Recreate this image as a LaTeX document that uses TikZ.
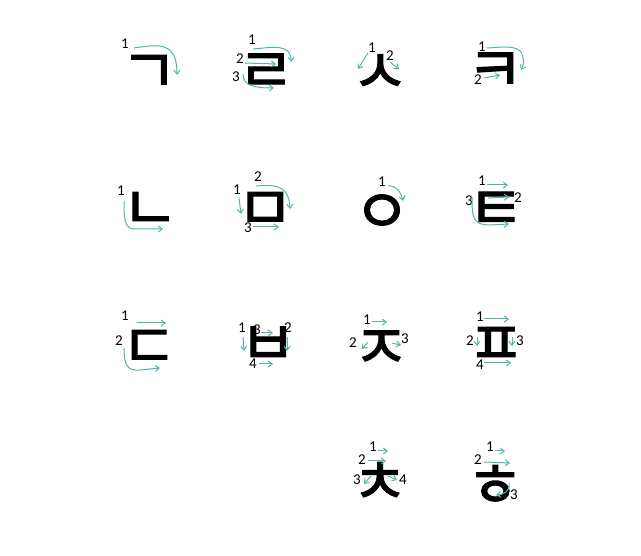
\documentclass[tikz,border=0pt]{standalone}
\usepackage{fontspec}
\newfontfamily\korfont{Noto Sans CJK KR}[FakeBold=1.6]
\setmainfont{Carlito}
\usetikzlibrary{arrows.meta}
\definecolor{strokeTeal}{RGB}{80,180,170}
\tikzset{
  jamo/.style={
    inner sep=0pt,
    yshift=-7pt,
    font=\korfont\fontsize{62}{62}\selectfont
  },
  stepNum/.style={
    inner sep=0pt,
    font=\fontsize{15}{15}\selectfont
  },
  strokeArrow/.style={
    -{Straight Barb[length=4pt,width=6pt]},
    draw=strokeTeal,
    line width=1pt
  }
}
\begin{document}
\begin{tikzpicture}[x=1pt,y=-1pt]
        \useasboundingbox (0,0) rectangle (641,556);

        \node[jamo] (giyeok) at (149,67) {ㄱ};
        \node[stepNum] (giyeok1) at (125,44) {1};
        \draw[strokeArrow] (134,48) .. controls (160,44) and (177,42) .. (177,75);

        \node[jamo] (rieul) at (266,66) {ㄹ};
        \node[stepNum] (rieul1) at (252,40) {1};
        \node[stepNum] (rieul2) at (240,59) {2};
        \node[stepNum] (rieul3) at (236,77) {3};
        \draw[strokeArrow] (253,49) .. controls (275,47) and (291,44) .. (291,62);
        \draw[strokeArrow] (245,63) -- (276,64);
        \draw[strokeArrow] (243,74) .. controls (243,86) and (255,88) .. (274,88);

        \node[jamo] (siot) at (380,67) {ㅅ};
        \node[stepNum] (siot1) at (372,48) {1};
        \node[stepNum] (siot2) at (390,56) {2};
        \draw[strokeArrow] (368,53) -- (358,69);
        \draw[strokeArrow] (390,62) -- (399,69);

        \node[jamo] (kieuk) at (495,65) {ㅋ};
        \node[stepNum] (kieuk1) at (482,47) {1};
        \node[stepNum] (kieuk2) at (478,80) {2};
        \draw[strokeArrow] (487,48) .. controls (505,47) and (522,44) .. (523,58) .. controls (524,63) and (523,66) .. (521,70);
        \draw[strokeArrow] (484,78) -- (500,75);

        \node[jamo] (nieun) at (150,204) {ㄴ};
        \node[stepNum] (nieun1) at (121,191) {1};
        \draw[strokeArrow] (124,201) .. controls (124,218) and (124,229) .. (135,229) -- (163,229);

        \node[jamo] (mieum) at (265,204) {ㅁ};
        \node[stepNum] (mieum1) at (237,190) {1};
        \node[stepNum] (mieum2) at (258,177) {2};
        \node[stepNum] (mieum3) at (248,228) {3};
        \draw[strokeArrow] (239,198) -- (241,214);
        \draw[strokeArrow] (256,186) .. controls (272,185) and (289,183) .. (290,209);
        \draw[strokeArrow] (253,227) -- (279,227);

        \node[jamo] (ieung) at (382,207) {ㅇ};
        \node[stepNum] (ieung1) at (382,182) {1};
        \draw[strokeArrow] (388,186) .. controls (396,185) and (401,192) .. (403,201);

        \node[jamo] (tieut) at (496,204) {ㅌ};
        \node[stepNum] (tieut1) at (482,181) {1};
        \node[stepNum] (tieut2) at (518,198) {2};
        \node[stepNum] (tieut3) at (469,201) {3};
        \draw[strokeArrow] (487,185) -- (508,185);
        \draw[strokeArrow] (488,198) -- (509,197);
        \draw[strokeArrow] (472,197) .. controls (472,218) and (473,225) .. (490,225) -- (509,224);

        \node[jamo] (digeut) at (149,342) {ㄷ};
        \node[stepNum] (digeut1) at (125,316) {1};
        \node[stepNum] (digeut2) at (119,341) {2};
        \draw[strokeArrow] (137,323) -- (166,323);
        \draw[strokeArrow] (124,348) .. controls (124,365) and (127,371) .. (140,370) -- (160,368);

        \node[jamo] (bieup) at (268,339) {ㅂ};
        \node[stepNum] (bieup1) at (242,328) {1};
        \node[stepNum] (bieup2) at (288,328) {2};
        \node[stepNum] (bieup3) at (257,330) {3};
        \node[stepNum] (bieup4) at (253,364) {4};
        \draw[strokeArrow] (243,337) -- (244,351);
        \draw[strokeArrow] (287,337) -- (287,351);
        \draw[strokeArrow] (261,333) -- (273,333);
        \draw[strokeArrow] (259,364) -- (273,364);

        \node[jamo] (jieut) at (381,343) {ㅈ};
        \node[stepNum] (jieut1) at (367,320) {1};
        \node[stepNum] (jieut2) at (353,343) {2};
        \node[stepNum] (jieut3) at (405,339) {3};
        \draw[strokeArrow] (372,322) -- (387,322);
        \draw[strokeArrow] (368,342) -- (362,349);
        \draw[strokeArrow] (392,343) -- (401,345);

        \node[jamo] (pieup) at (496,339) {ㅍ};
        \node[stepNum] (pieup1) at (480,317) {1};
        \node[stepNum] (pieup2) at (470,341) {2};
        \node[stepNum] (pieup3) at (520,341) {3};
        \node[stepNum] (pieup4) at (480,365) {4};
        \draw[strokeArrow] (484,319) -- (509,319);
        \draw[strokeArrow] (477,337) -- (477,346);
        \draw[strokeArrow] (512,337) -- (512,346);
        \draw[strokeArrow] (484,363) -- (511,363);

        \node[jamo] (chieut) at (380,476) {ㅊ};
        \node[stepNum] (chieut1) at (373,447) {1};
        \node[stepNum] (chieut2) at (362,460) {2};
        \node[stepNum] (chieut3) at (357,480) {3};
        \node[stepNum] (chieut4) at (403,480) {4};
        \draw[strokeArrow] (378,451) -- (388,451);
        \draw[strokeArrow] (368,461) -- (386,461);
        \draw[strokeArrow] (371,476) -- (364,484);
        \draw[strokeArrow] (388,476) -- (397,480);

        \node[jamo] (hieut) at (495,479) {ㅎ};
        \node[stepNum] (hieut1) at (490,447) {1};
        \node[stepNum] (hieut2) at (478,460) {2};
        \node[stepNum] (hieut3) at (514,495) {3};
        \draw[strokeArrow] (495,451) -- (505,451);
        \draw[strokeArrow] (484,462) -- (510,463);
        \draw[strokeArrow] (509,483) .. controls (510,492) and (504,494) .. (496,495);
    \end{tikzpicture}
\end{document}
